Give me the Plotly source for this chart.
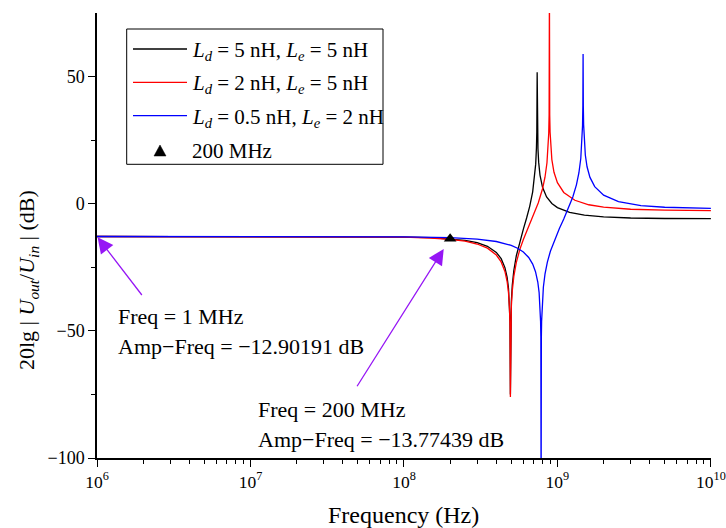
import math
import plotly.graph_objects as go

# ---------------- data (frequency in MHz, response in dB) ----------------
freq_black = [1, 10, 30, 60, 100, 150, 200, 250, 300, 350, 400, 430, 455, 470, 480, 487, 491, 494, 497, 501,
              508, 520, 540, 570, 600, 630, 660, 690, 710, 722, 730, 734, 738, 742, 747, 755, 770, 800, 850, 920,
              1000, 1200, 1500, 2000, 3000, 5000, 10000]
db_black = [-12.90, -12.902, -12.918, -12.971, -13.102, -13.374, -13.792, -14.411, -15.328, -16.742,
            -19.140, -21.610, -25.128, -28.844, -33.178, -38.947, -46.16, -75.0, -45.94, -38.425,
            -32.132, -26.269, -20.446, -14.609, -9.966, -5.630, -1.033, 4.666, 10.216, 15.562,
            21.891, 28.06, 51.7, 28.36, 21.49, 16.247, 11.255, 6.439, 2.669, 0.077,
            -1.523, -3.412, -4.518, -5.202, -5.624, -5.821, -5.900]

freq_red = [1, 10, 30, 60, 100, 150, 200, 250, 300, 350, 400, 430, 455, 470, 480, 487, 491, 494, 497, 501,
            508, 520, 540, 570, 600, 650, 700, 750, 800, 830, 855, 870, 878, 883, 887, 891, 896, 905, 920, 950,
            1000, 1100, 1300, 1600, 2000, 3000, 5000, 10000]
db_red = [-12.90, -12.902, -12.922, -12.989, -13.152, -13.488, -14.002, -14.751, -15.842, -17.485,
          -20.185, -22.886, -26.630, -30.500, -34.945, -40.797, -48.059, -76.0, -47.914, -40.453,
          -34.257, -28.571, -23.082, -17.867, -14.050, -8.930, -4.362, 0.313, 5.887, 10.419,
          16.094, 21.964, 27.683, 34.845, 85.0, 34.93, 28.105, 22.289, 17.355, 12.370,
          8.261, 4.435, 1.355, -0.413, -1.376, -2.177, -2.539, -2.685]

freq_blue = [1, 10, 30, 100, 200, 300, 400, 500, 550, 600, 650, 690, 720, 745, 760, 770, 777, 780, 783, 786,
             789, 796, 810, 830, 860, 900, 960, 1030, 1100, 1180, 1260, 1330, 1380, 1420, 1445, 1458, 1465, 1470,
             1475, 1482, 1495, 1520, 1560, 1630, 1750, 2000, 2500, 3500, 5000, 7000, 10000]
db_blue = [-12.90, -12.901, -12.909, -13.003, -13.324, -13.910, -14.859, -16.382, -17.497, -19.002,
           -21.159, -23.755, -26.742, -30.793, -34.947, -39.762, -46.377, -52.358, -120.0, -52.271,
           -46.207, -39.389, -32.835, -27.721, -22.969, -18.685, -14.037, -9.764, -6.003, -1.836,
           2.651, 7.434, 12.081, 17.788, 24.167, 30.722, 38.42, 58.9, 38.56, 31.05,
           24.843, 19.144, 14.532, 10.341, 6.723, 3.346, 0.830, -0.717, -1.388, -1.677, -1.822]

series_names = ["<i>L</i><sub><i>d</i></sub> = 5 nH, <i>L</i><sub><i>e</i></sub> = 5 nH",
                "<i>L</i><sub><i>d</i></sub> = 2 nH, <i>L</i><sub><i>e</i></sub> = 5 nH",
                "<i>L</i><sub><i>d</i></sub> = 0.5 nH, <i>L</i><sub><i>e</i></sub> = 2 nH"]
marker_name = "200 MHz"
marker_freq_mhz = [200]
marker_db = [-13.77439]

point1_freq_mhz = 1
point1_db = -12.90191
point2_freq_mhz = 200
point2_db = -13.77439

x_tick_vals = [1e6, 1e7, 1e8, 1e9, 1e10]
x_tick_text = ["10<sup>6</sup>", "10<sup>7</sup>", "10<sup>8</sup>", "10<sup>9</sup>", "10<sup>10</sup>"]
y_tick_vals = [-100, -50, 0, 50]
y_tick_text = ["\u2212100", "\u221250", "0", "50"]

# ---------------- layout geometry ----------------
W, H = 726, 528
ML, MR, MT, MB = 97, 15, 13, 70
PW, PH = W - ML - MR, H - MT - MB
FONT = "Liberation Serif"
PURPLE = "#9616f5"


def pxx(x):
    return (x - ML) / PW


def pxy(y):
    return (H - MB - y) / PH


fig = go.Figure()
colors = ["#000000", "#ff0000", "#0000ff"]
for fr, db, c, nm in zip([freq_black, freq_red, freq_blue], [db_black, db_red, db_blue], colors, series_names):
    fig.add_trace(go.Scatter(x=[f * 1e6 for f in fr], y=db, mode="lines", name=nm,
                             line=dict(color=c, width=1.3), showlegend=False))

fig.add_trace(go.Scatter(x=[f * 1e6 for f in marker_freq_mhz], y=marker_db, mode="markers", name=marker_name,
                         marker=dict(symbol="triangle-up", size=11, color="black"), showlegend=False))

minor_x = [k * 10 ** n for n in range(6, 10) for k in range(2, 10)]

fig.update_xaxes(type="log", range=[6, 10.0008], tickvals=x_tick_vals, ticktext=x_tick_text,
                 ticks="outside", ticklen=7, tickwidth=1.3, tickcolor="black",
                 showline=True, linecolor="black", linewidth=1.5, showgrid=False, zeroline=False,
                 ticklabeloverflow="allow",
                 tickfont=dict(family=FONT, size=17.5, color="black"),
                 minor=dict(tickmode="array", tickvals=minor_x, ticks="outside", ticklen=4,
                            tickwidth=1.2, tickcolor="black", showgrid=False))
fig.update_yaxes(range=[-100, 75], tickvals=y_tick_vals, ticktext=y_tick_text,
                 ticks="outside", ticklen=7, tickwidth=1.3, tickcolor="black",
                 showline=True, linecolor="black", linewidth=1.5, showgrid=False, zeroline=False,
                 tickfont=dict(family=FONT, size=18, color="black"),
                 minor=dict(tickmode="array", tickvals=[-75, -25, 25], ticks="outside", ticklen=4,
                            tickwidth=1.2, tickcolor="black", showgrid=False))

annotations = []
# axis titles
annotations.append(dict(text="Frequency (Hz)", xref="paper", yref="paper", x=pxx(403), y=pxy(515),
                        xanchor="center", yanchor="middle", showarrow=False,
                        font=dict(family=FONT, size=24, color="black")))
annotations.append(dict(text="20lg | <i>U</i><sub><i>out</i></sub>/<i>U</i><sub><i>in</i></sub> | (dB)",
                        xref="paper", yref="paper", x=pxx(28), y=pxy(280), textangle=-90,
                        xanchor="center", yanchor="middle", showarrow=False,
                        font=dict(family=FONT, size=22, color="black")))
# arrows
annotations.append(dict(text="", x=math.log10(point1_freq_mhz * 1e6), y=point1_db, xref="x", yref="y",
                        showarrow=True, ax=46, ay=60, arrowhead=2, arrowsize=2.4, arrowwidth=1.3,
                        arrowcolor=PURPLE, standoff=1))
annotations.append(dict(text="", x=math.log10(point2_freq_mhz * 1e6), y=point2_db, xref="x", yref="y",
                        showarrow=True, ax=-94, ay=149, arrowhead=2, arrowsize=2.4, arrowwidth=1.3,
                        arrowcolor=PURPLE, standoff=12))
# annotation texts
for txt, x, y in [("Freq = %d MHz" % point1_freq_mhz, 116, 316.5),
                  ("Amp\u2212Freq = \u2212%.5f dB" % abs(point1_db), 116, 346.5),
                  ("Freq = %d MHz" % point2_freq_mhz, 256, 409),
                  ("Amp\u2212Freq = \u2212%.5f dB" % abs(point2_db), 256, 439)]:
    annotations.append(dict(text=txt, xref="paper", yref="paper", x=pxx(x), y=pxy(y),
                            xanchor="left", yanchor="middle", showarrow=False,
                            font=dict(family=FONT, size=22, color="black")))

# custom legend
shapes = [dict(type="rect", xref="paper", yref="paper", x0=pxx(126.7), x1=pxx(383), y0=pxy(29), y1=pxy(164.3),
               line=dict(color="black", width=1), fillcolor="white", layer="above")]
leg_rows = [49, 82.3, 115.7]
for yy, c, nm in zip(leg_rows, colors, series_names):
    shapes.append(dict(type="line", xref="paper", yref="paper", x0=pxx(133), x1=pxx(187), y0=pxy(yy), y1=pxy(yy),
                       line=dict(color=c, width=1.3), layer="above"))
    annotations.append(dict(text=nm, xref="paper", yref="paper", x=pxx(190), y=pxy(yy + 2),
                            xanchor="left", yanchor="middle", showarrow=False,
                            font=dict(family=FONT, size=21, color="black")))
tx, ty = 160, 151
shapes.append(dict(type="path", xref="paper", yref="paper",
                   path="M %f,%f L %f,%f L %f,%f Z" % (pxx(tx - 6), pxy(ty + 5), pxx(tx + 6), pxy(ty + 5),
                                                      pxx(tx), pxy(ty - 6)),
                   fillcolor="black", line=dict(color="black", width=0.5), layer="above"))
annotations.append(dict(text=marker_name, xref="paper", yref="paper", x=pxx(190), y=pxy(151),
                        xanchor="left", yanchor="middle", showarrow=False,
                        font=dict(family=FONT, size=21, color="black")))

fig.update_layout(width=W, height=H, margin=dict(l=ML, r=MR, t=MT, b=MB, autoexpand=False),
                  plot_bgcolor="white", paper_bgcolor="white", showlegend=False,
                  font=dict(family=FONT, color="black"),
                  annotations=annotations, shapes=shapes)

fig.write_html("out.html")
